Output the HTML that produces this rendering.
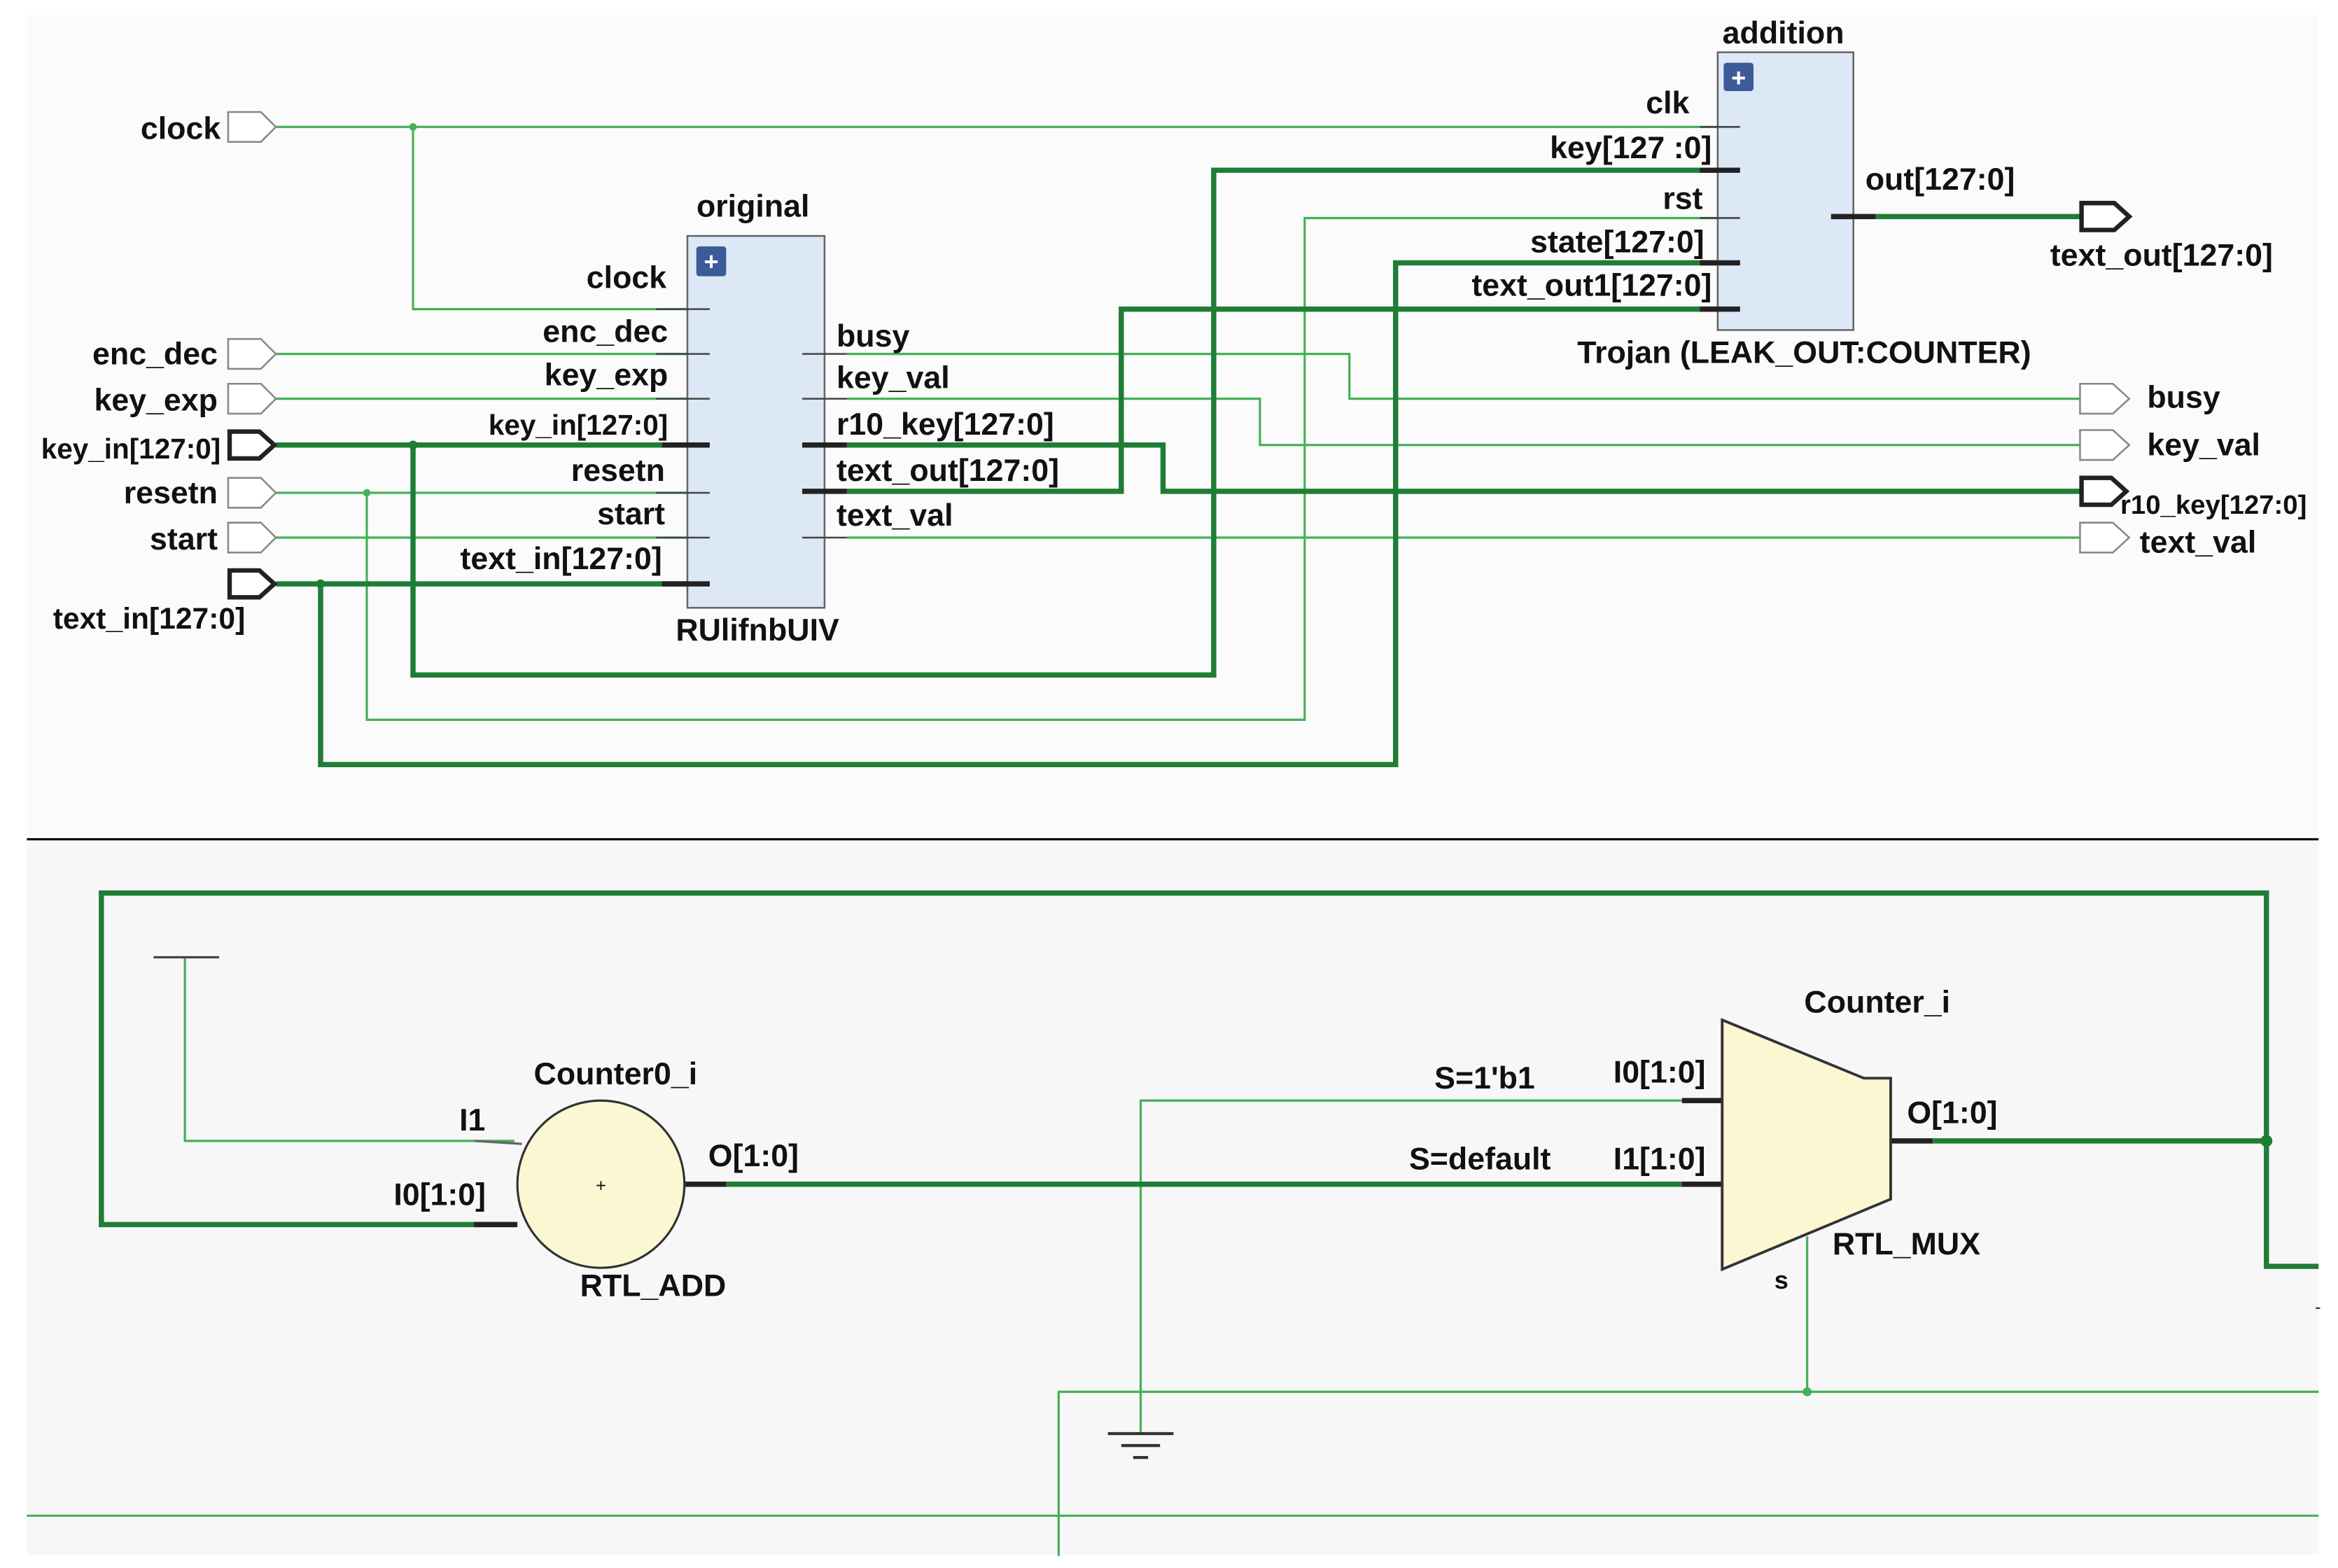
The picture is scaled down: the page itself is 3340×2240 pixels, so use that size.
<!DOCTYPE html>
<html><head><meta charset="utf-8"><style>
html,body{margin:0;padding:0;background:#fff;}
svg{display:block;}
text{font-family:"Liberation Sans",sans-serif;font-weight:bold;fill:#111;}
</style></head><body>
<svg width="3340" height="2240" viewBox="0 0 1568 1050" preserveAspectRatio="none" xmlns="http://www.w3.org/2000/svg">
<rect x="0" y="0" width="1568" height="1050" fill="#fff"/>
<rect x="18" y="10" width="1537" height="550" fill="#fbfbfb"/>
<rect x="18" y="563" width="1537" height="478" fill="#f7f7f7"/>
<line x1="18" y1="562" x2="1555" y2="562" stroke="#000" stroke-width="1.5"/>

<g fill="none" stroke="#45b055" stroke-width="1.5">
<polyline points="185,85 1165,85"/>
<polyline points="277,85 277,207 476,207"/>
<line x1="185" y1="237" x2="476" y2="237"/>
<line x1="185" y1="267" x2="476" y2="267"/>
<line x1="185" y1="330" x2="476" y2="330"/>
<polyline points="246,330 246,482 875,482 875,146 1165,146"/>
<line x1="185" y1="360" x2="476" y2="360"/>
<polyline points="568,237 905,237 905,267 1395,267"/>
<polyline points="568,267 845,267 845,298 1395,298"/>
<line x1="568" y1="360" x2="1395" y2="360"/>
<polyline points="124,641 124,764 345,764"/>
<polyline points="1128,737 765,737 765,960"/>
<polyline points="1212,828 1212,932"/>
<polyline points="1555,932 710,932 710,1042"/>
<line x1="18" y1="1015" x2="1555" y2="1015"/>
</g>
<g fill="none" stroke="#1f7d36" stroke-width="3.5">
<line x1="185" y1="298" x2="476" y2="298"/>
<polyline points="277,298 277,452 814,452 814,114 1165,114"/>
<line x1="185" y1="391" x2="476" y2="391"/>
<polyline points="215,391 215,512 936,512 936,176 1165,176"/>
<polyline points="568,298 780,298 780,329 1395,329"/>
<polyline points="568,329 752,329 752,207 1165,207"/>
<line x1="1258" y1="145" x2="1395" y2="145"/>
<polyline points="345,820 68,820 68,598 1520,598 1520,848 1555,848"/>
<line x1="487" y1="793" x2="1128" y2="793"/>
<line x1="1295" y1="764" x2="1520" y2="764"/>
</g>
<g fill="#1f7d36"><circle cx="277" cy="298" r="3"/><circle cx="215" cy="391" r="3"/><circle cx="1520" cy="764" r="4"/></g>
<g fill="#45b055"><circle cx="277" cy="85" r="2.5"/><circle cx="246" cy="330" r="2.5"/><circle cx="1212" cy="932" r="3"/></g>

<rect x="461" y="158" width="92" height="249" fill="#dce8f5" stroke="#666" stroke-width="1.2"/>
<rect x="467" y="165" width="20" height="20" rx="2" fill="#3d5a99"/>
<text x="477" y="181" text-anchor="middle" style="fill:#fff;font-size:17px">+</text>
<rect x="1152" y="35" width="91" height="186" fill="#dce8f5" stroke="#666" stroke-width="1.2"/>
<rect x="1156" y="42" width="20" height="19" rx="2" fill="#3d5a99"/>
<text x="1166" y="58" text-anchor="middle" style="fill:#fff;font-size:17px">+</text>

<g stroke="#444" stroke-width="1.2">
<line x1="440" y1="207" x2="476" y2="207"/><line x1="440" y1="237" x2="476" y2="237"/>
<line x1="440" y1="267" x2="476" y2="267"/><line x1="440" y1="330" x2="476" y2="330"/>
<line x1="440" y1="360" x2="476" y2="360"/>
<line x1="538" y1="237" x2="568" y2="237"/><line x1="538" y1="267" x2="568" y2="267"/>
<line x1="538" y1="360" x2="568" y2="360"/>
<line x1="1140" y1="85" x2="1167" y2="85"/><line x1="1140" y1="146" x2="1167" y2="146"/>
</g>
<g stroke="#222" stroke-width="3.5">
<line x1="444" y1="298" x2="476" y2="298"/><line x1="444" y1="391" x2="476" y2="391"/>
<line x1="538" y1="298" x2="568" y2="298"/><line x1="538" y1="329" x2="568" y2="329"/>
<line x1="1140" y1="114" x2="1167" y2="114"/><line x1="1140" y1="176" x2="1167" y2="176"/>
<line x1="1140" y1="207" x2="1167" y2="207"/><line x1="1228" y1="145" x2="1258" y2="145"/>
<line x1="459" y1="793" x2="487" y2="793"/><line x1="1128" y1="793" x2="1155" y2="793"/>
<line x1="1128" y1="737" x2="1155" y2="737"/><line x1="1268" y1="764" x2="1296" y2="764"/>
<line x1="318" y1="820" x2="347" y2="820"/>
</g>
<line x1="318" y1="764" x2="350" y2="766" stroke="#666" stroke-width="1.5"/>

<g fill="#fff" stroke="#888" stroke-width="1.2">
<path d="M153,75 H175 L185,85 L175,95 H153 Z"/>
<path d="M153,227 H175 L185,237 L175,247 H153 Z"/>
<path d="M153,257 H175 L185,267 L175,277 H153 Z"/>
<path d="M153,320 H175 L185,330 L175,340 H153 Z"/>
<path d="M153,350 H175 L185,360 L175,370 H153 Z"/>
<path d="M1395,257 H1417 L1428,267 L1417,277 H1395 Z"/>
<path d="M1395,288 H1417 L1428,298 L1417,308 H1395 Z"/>
<path d="M1395,350 H1417 L1428,360 L1417,370 H1395 Z"/>
</g>
<g fill="#fff" stroke="#222" stroke-width="3">
<path d="M154,289 H174 L184,298 L174,307 H154 Z"/>
<path d="M154,382 H174 L184,391 L174,400 H154 Z"/>
<path d="M1396,136 H1418 L1428,145 L1418,154 H1396 Z"/>
<path d="M1396,320 H1416 L1426,329 L1416,338 H1396 Z"/>
</g>

<ellipse cx="403" cy="793" rx="56" ry="56" fill="#fbf7d2" stroke="#333" stroke-width="1.5"/>
<text x="403" y="798" text-anchor="middle" style="font-size:12px;font-weight:normal">+</text>
<polygon points="1155,683 1250,722 1268,722 1268,803 1155,850" fill="#fbf7d2" stroke="#333" stroke-width="1.8"/>
<line x1="103" y1="641" x2="147" y2="641" stroke="#444" stroke-width="1.5"/>
<g stroke="#333" stroke-width="2"><line x1="743" y1="960" x2="787" y2="960"/><line x1="752" y1="968" x2="778" y2="968"/><line x1="760" y1="976" x2="770" y2="976"/></g>
<line x1="1553" y1="876" x2="1556" y2="876" stroke="#333" stroke-width="1"/>

<g style="font-size:21px">
<text x="148" y="93" text-anchor="end">clock</text>
<text x="146" y="244" text-anchor="end">enc_dec</text>
<text x="146" y="275" text-anchor="end">key_exp</text>
<text x="148" y="307" text-anchor="end" style="font-size:19px">key_in[127:0]</text>
<text x="146" y="337" text-anchor="end">resetn</text>
<text x="146" y="368" text-anchor="end">start</text>
<text x="100" y="421" text-anchor="middle" style="font-size:20px">text_in[127:0]</text>
<text x="505" y="145" text-anchor="middle">original</text>
<text x="508" y="429" text-anchor="middle">RUlifnbUIV</text>
<text x="447" y="193" text-anchor="end">clock</text>
<text x="448" y="229" text-anchor="end">enc_dec</text>
<text x="448" y="258" text-anchor="end">key_exp</text>
<text x="448" y="291" text-anchor="end" style="font-size:19px">key_in[127:0]</text>
<text x="446" y="322" text-anchor="end">resetn</text>
<text x="446" y="351" text-anchor="end">start</text>
<text x="444" y="381" text-anchor="end">text_in[127:0]</text>
<text x="561" y="232">busy</text>
<text x="561" y="260">key_val</text>
<text x="561" y="291">r10_key[127:0]</text>
<text x="561" y="322">text_out[127:0]</text>
<text x="561" y="352">text_val</text>
<text x="1196" y="29" text-anchor="middle">addition</text>
<text x="1133" y="76" text-anchor="end">clk</text>
<text x="1148" y="106" text-anchor="end">key[127 :0]</text>
<text x="1142" y="140" text-anchor="end">rst</text>
<text x="1143" y="169" text-anchor="end">state[127:0]</text>
<text x="1148" y="198" text-anchor="end">text_out1[127:0]</text>
<text x="1251" y="127">out[127:0]</text>
<text x="1375" y="178">text_out[127:0]</text>
<text x="1210" y="243" text-anchor="middle">Trojan (LEAK_OUT:COUNTER)</text>
<text x="1440" y="273">busy</text>
<text x="1440" y="305">key_val</text>
<text x="1422" y="344" style="font-size:18px">r10_key[127:0]</text>
<text x="1435" y="370">text_val</text>
<text x="358" y="726">Counter0_i</text>
<text x="308" y="757">I1</text>
<text x="264" y="807">I0[1:0]</text>
<text x="475" y="781">O[1:0]</text>
<text x="389" y="868">RTL_ADD</text>
<text x="962" y="729">S=1'b1</text>
<text x="1082" y="725">I0[1:0]</text>
<text x="945" y="783">S=default</text>
<text x="1082" y="783">I1[1:0]</text>
<text x="1210" y="678">Counter_i</text>
<text x="1279" y="752">O[1:0]</text>
<text x="1229" y="840">RTL_MUX</text>
<text x="1190" y="863" style="font-size:17px">s</text>
</g>
</svg>
</body></html>
